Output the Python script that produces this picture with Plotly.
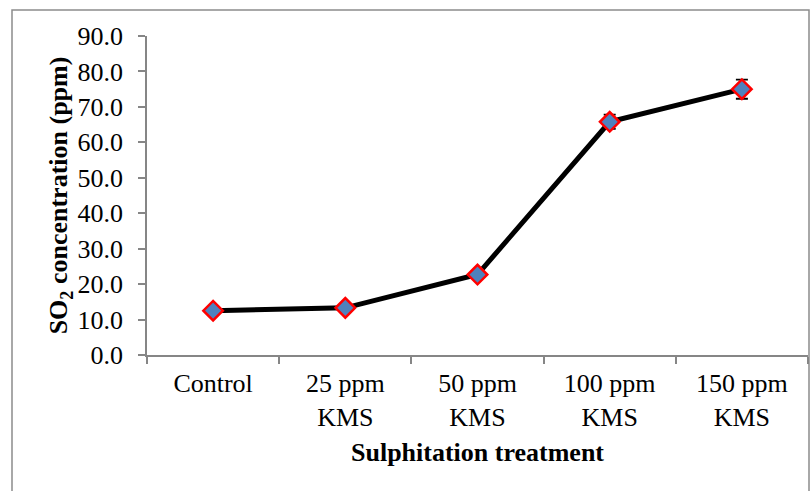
import plotly.graph_objects as go

categories = ["Control", "25 ppm<br>KMS", "50 ppm<br>KMS", "100 ppm<br>KMS", "150 ppm<br>KMS"]
so2_values = [12.5, 13.3, 22.7, 65.8, 75.0]
so2_errors = [0.8, 0.8, 0.9, 2.0, 2.7]
y_ticks = [0, 10, 20, 30, 40, 50, 60, 70, 80, 90]
y_tick_labels = ["%.1f" % v for v in y_ticks]

W, H = 812, 491
L, R, T, B = 147, 4, 36, 136
pw, ph = W - L - R, H - T - B

def px_to_paper_x(px):
    return (px - L) / pw

def px_to_paper_y(py):
    return (H - B - py) / ph

font_family = "Liberation Serif, Times New Roman, serif"
axis_color = "#868686"
FS = 26

fig = go.Figure()
fig.add_trace(go.Scatter(
    x=categories, y=so2_values,
    mode="lines+markers",
    line=dict(color="black", width=5),
    marker=dict(symbol="diamond", size=15, color="#4F81BD",
                line=dict(color="#FF0000", width=2.5)),
    error_y=dict(type="data", array=so2_errors, visible=True,
                 color="black", thickness=1.8, width=6),
    showlegend=False,
))

fig.update_layout(
    width=W, height=H,
    margin=dict(l=L, r=R, t=T, b=B),
    paper_bgcolor="white", plot_bgcolor="white",
    font=dict(family=font_family, color="black", size=FS),
    xaxis=dict(
        type="category",
        tickson="boundaries",
        showline=True, linecolor=axis_color, linewidth=1.5,
        ticks="outside", ticklen=7, tickcolor=axis_color, tickwidth=1.5,
        showgrid=False, zeroline=False,
        tickfont=dict(size=FS, family=font_family),
        ticklabelstandoff=4,
        title=dict(text="<b>Sulphitation treatment</b>", font=dict(size=FS, family=font_family), standoff=12),
        range=[-0.5, 4.5],
    ),
    yaxis=dict(
        range=[0, 90],
        tickvals=y_ticks, ticktext=y_tick_labels,
        showline=True, linecolor=axis_color, linewidth=1.5,
        ticks="outside", ticklen=7, tickcolor=axis_color, tickwidth=1.5,
        showgrid=False, zeroline=False,
        tickfont=dict(size=FS, family=font_family),
        ticklabelstandoff=10,
        title=dict(text="<b>SO<sub>2</sub> concentration (ppm)</b>", font=dict(size=FS, family=font_family), standoff=2),
    ),
    shapes=[dict(
        type="rect", xref="paper", yref="paper",
        x0=px_to_paper_x(12), x1=px_to_paper_x(809),
        y0=px_to_paper_y(500), y1=px_to_paper_y(10),
        line=dict(color="#8C8C8C", width=1.5), fillcolor="rgba(0,0,0,0)",
        layer="below",
    )],
)

fig.write_html("out.html")
